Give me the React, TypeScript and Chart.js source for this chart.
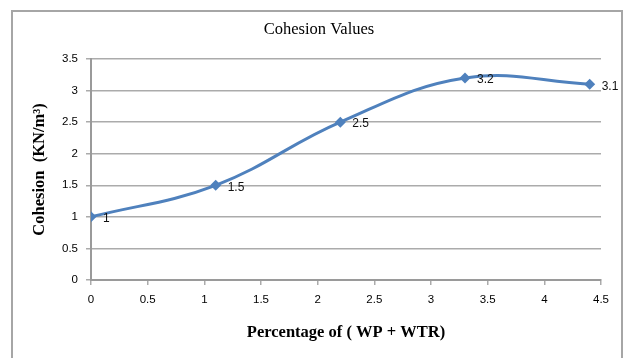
import React, { useEffect, useRef } from "react";
import { Chart, registerables } from "chart.js";

Chart.register(...registerables);

const xValues = [0, 1.1, 2.2, 3.3, 4.4];
const cohesion = [1, 1.5, 2.5, 3.2, 3.1];
const pointLabels = ["1", "1.5", "2.5", "3.2", "3.1"];
const chartTitle = "Cohesion Values";
const xTitle = "Percentage of ( WP + WTR)";
const yTitle = "Cohesion  (KN/m\u00B3)";

const LINE = "#4F81BD";
const GRID = "#ababab";
const SERIF = "'Liberation Serif', 'Times New Roman', serif";
const SANS = "'Liberation Sans', Arial, sans-serif";

const framePlugin = {
  id: "frame",
  beforeDraw(chart: any) {
    const { ctx } = chart;
    ctx.save();
    ctx.fillStyle = "#ffffff";
    ctx.fillRect(0, 0, chart.width, chart.height);
    ctx.strokeStyle = "#a6a6a6";
    ctx.lineWidth = 2;
    ctx.strokeRect(12, 11, 610, 360);
    ctx.fillStyle = "#000";
    ctx.font = `16.5px ${SERIF}`;
    ctx.textAlign = "center";
    ctx.textBaseline = "middle";
    ctx.fillText(chartTitle, 319, 30);
    ctx.restore();
  },
};

const labelPlugin = {
  id: "pointLabels",
  afterDatasetsDraw(chart: any) {
    const { ctx } = chart;
    const meta = chart.getDatasetMeta(0);
    ctx.save();
    ctx.fillStyle = "#111";
    ctx.font = `12px ${SANS}`;
    ctx.textAlign = "left";
    ctx.textBaseline = "middle";
    meta.data.forEach((pt: any, i: number) => {
      ctx.fillText(pointLabels[i], pt.x + 12, pt.y + 2);
    });
    ctx.restore();
  },
};

const fmt = (v: any) => String(Number(v));

export default function App() {
  const ref = useRef<HTMLCanvasElement>(null);
  useEffect(() => {
    if (!ref.current) return;
    const chart = new Chart(ref.current, {
      type: "line",
      data: {
        datasets: [
          {
            data: xValues.map((x, i) => ({ x, y: cohesion[i] })),
            borderColor: LINE,
            backgroundColor: LINE,
            borderWidth: 3,
            tension: 0.4,
            pointStyle: "rectRot",
            pointRadius: 5.5,
            pointHoverRadius: 5.5,
            pointBorderWidth: 0,
            fill: false,
          },
        ],
      },
      options: {
        animation: false,
        responsive: false,
        layout: { padding: { top: 59, right: 24, left: 0, bottom: 0 } },
        plugins: {
          legend: { display: false },
          title: { display: false },
          tooltip: { enabled: false },
        },
        scales: {
          x: {
            type: "linear",
            min: 0,
            max: 4.5,
            afterFit(scale: any) {
              scale.height = 78;
            },
            ticks: {
              stepSize: 0.5,
              callback: fmt,
              color: "#000",
              font: { family: SANS, size: 11.5 },
              padding: 8,
              maxRotation: 0,
            },
            grid: {
              display: true,
              drawOnChartArea: false,
              drawTicks: true,
              tickLength: 5,
              color: GRID,
              lineWidth: 1.5,
            },
            border: { color: "#9a9a9a", width: 2 },
            title: {
              display: true,
              text: xTitle,
              color: "#000",
              font: { family: SERIF, size: 16.5, weight: "bold" },
              padding: { top: 0, bottom: 15 },
            },
          },
          y: {
            min: 0,
            max: 3.5,
            afterFit(scale: any) {
              scale.width = 91;
            },
            ticks: {
              stepSize: 0.5,
              callback: fmt,
              color: "#000",
              font: { family: SANS, size: 11.5 },
              padding: 8,
            },
            grid: {
              color: GRID,
              lineWidth: 1.5,
              tickLength: 5,
            },
            border: { color: "#9a9a9a", width: 2 },
            title: {
              display: true,
              text: yTitle,
              color: "#000",
              font: { family: SERIF, size: 16.5, weight: "bold" },
              padding: { top: 30, bottom: 0 },
            },
          },
        },
      },
      plugins: [framePlugin, labelPlugin],
    } as any);
    return () => chart.destroy();
  }, []);
  return (
    <div style={{ position: "absolute", left: 0, top: 0, width: 625, height: 358 }}>
      <canvas ref={ref} width={625} height={358} style={{ display: "block" }} />
    </div>
  );
}
